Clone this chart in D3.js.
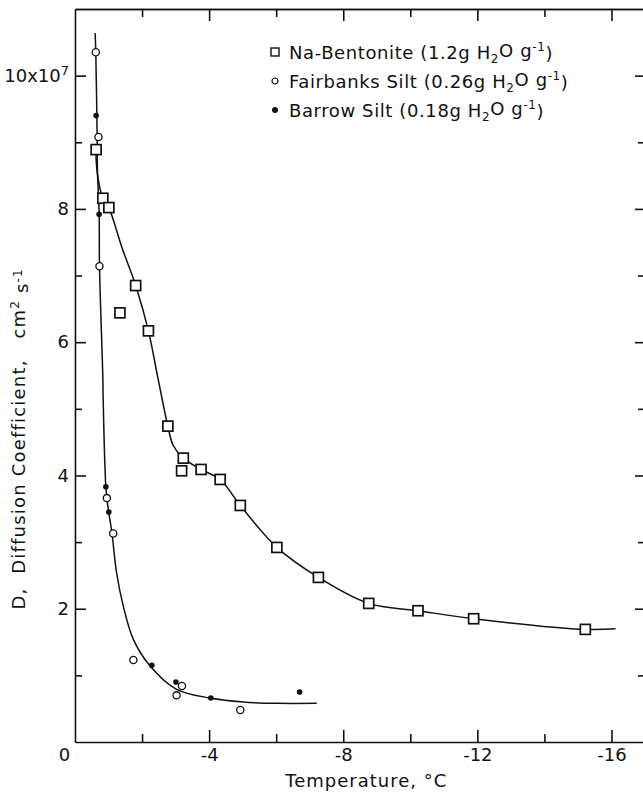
<!DOCTYPE html>
<html>
<head>
<meta charset="utf-8">
<script src="https://cdn.jsdelivr.net/npm/d3@7"></script>
<style>
  body { margin: 0; background: #fff; }
  svg text { font-family: "DejaVu Sans", sans-serif; fill: #111; white-space: pre; }
</style>
</head>
<body>
<div id="graph"></div>
<script>
//Measured points (temperature in degC, D in 1e-7 cm2/s)
const naT = [-0.63, -0.83, -1.01, -1.34, -1.81, -2.19, -2.77, -3.23, -3.18, -3.76, -4.33, -4.93, -6.02, -7.26, -8.76, -10.23, -11.89, -15.22];
const naD = [8.89, 8.16, 8.02, 6.44, 6.85, 6.17, 4.74, 4.26, 4.07, 4.09, 3.94, 3.55, 2.92, 2.47, 2.08, 1.97, 1.85, 1.69];

const fairbanksT = [-0.62, -0.70, -0.73, -0.95, -1.14, -1.74, -3.19, -3.03, -4.93];
const fairbanksD = [10.35, 9.08, 7.14, 3.66, 3.13, 1.23, 0.84, 0.70, 0.48];

const barrowT = [-0.63, -0.72, -0.92, -1.01, -2.29, -3.01, -4.05, -6.70];
const barrowD = [9.40, 7.92, 3.83, 3.45, 1.15, 0.90, 0.66, 0.75];

//Hand drawn curves
const naCurveT = [-0.62, -0.66, -0.83, -1.01, -1.40, -1.81, -2.19, -2.47, -2.77, -2.93, -3.23, -3.76, -4.33, -4.93, -6.02, -7.26, -8.76, -10.23, -11.89, -15.22, -16.12];
const naCurveD = [8.95, 8.56, 8.16, 8.02, 7.42, 6.85, 6.17, 5.47, 4.74, 4.45, 4.26, 4.09, 3.94, 3.55, 2.92, 2.47, 2.08, 1.97, 1.85, 1.69, 1.70];

const siltCurveT = [-0.60, -0.62, -0.66, -0.67, -0.72, -0.73, -0.83, -0.84, -0.92, -0.98, -1.10, -1.24, -1.44, -1.74, -2.24, -3.03, -4.03, -5.02, -6.02, -7.21];
const siltCurveD = [10.64, 10.35, 9.08, 8.56, 7.93, 7.15, 5.47, 5.15, 3.83, 3.54, 3.14, 2.54, 2.04, 1.54, 1.14, 0.79, 0.66, 0.60, 0.58, 0.58];

//Ticks
const xMajor = [0, -4, -8, -12, -16];
const xMinor = [-2, -6, -10, -14];
const xTickLabels = ["0", "-4", "-8", "-12", "-16"];
const yMajor = [2, 4, 6, 8, 10];
const yMinor = [1, 3, 5, 7, 9];
const yTickLabels = ["2", "4", "6", "8", "10x10"];

//Legend
const legendNames = ["Na-Bentonite", "Fairbanks Silt", "Barrow Silt"];
const legendWater = ["1.2g", "0.26g", "0.18g"];
const legendMarks = ["square", "open", "dot"];

//Display specifications
const W = 643, H = 795;
const margin = {top: 9, right: -2, bottom: 53, left: 75};
const width = W - margin.left - margin.right;
const height = H - margin.top - margin.bottom;

const x = d3.scaleLinear().domain([0, -17]).range([0, width]);
const y = d3.scaleLinear().domain([0, 11]).range([height, 0]);

const svg = d3.select("#graph").append("svg")
    .attr("width", W).attr("height", H);

const g = svg.append("g")
    .attr("transform", "translate(" + margin.left + "," + margin.top + ")");

function styleAxis(sel) {
  sel.selectAll("path.domain").attr("stroke", "#111").attr("stroke-width", 1.6);
  sel.selectAll(".tick line").attr("stroke", "#111").attr("stroke-width", 1.6);
  sel.selectAll("text").attr("font-size", 18).attr("fill", "#111");
}

//Bottom axis
g.append("g").attr("transform", "translate(0," + height + ")")
  .call(d3.axisBottom(x).tickValues(xMinor).tickSize(-8).tickSizeOuter(0).tickFormat(""))
  .call(styleAxis);
const bx = g.append("g").attr("transform", "translate(0," + height + ")")
  .call(d3.axisBottom(x).tickValues(xMajor).tickSize(-12).tickSizeOuter(0).tickPadding(6)
    .tickFormat((d, i) => xTickLabels[i]))
  .call(styleAxis);
bx.select("path.domain").remove();
bx.selectAll(".tick").filter(d => d === 0).select("line").remove();
bx.selectAll(".tick").filter(d => d === 0).select("text").attr("x", -11);

//Top axis
g.append("g")
  .call(d3.axisTop(x).tickValues(xMinor).tickSize(-8).tickSizeOuter(0).tickFormat(""))
  .call(styleAxis);
g.append("g")
  .call(d3.axisTop(x).tickValues(xMajor.slice(1)).tickSize(-12).tickSizeOuter(0).tickFormat(""))
  .call(styleAxis);

//Left axis
g.append("g")
  .call(d3.axisLeft(y).tickValues(yMinor).tickSize(-7).tickSizeOuter(0).tickFormat(""))
  .call(styleAxis);
const ly = g.append("g")
  .call(d3.axisLeft(y).tickValues(yMajor).tickSize(-11).tickSizeOuter(0).tickPadding(6)
    .tickFormat((d, i) => yTickLabels[i]))
  .call(styleAxis);
ly.select("path.domain").remove();
ly.selectAll(".tick").filter(d => d === 10).select("text")
  .append("tspan").attr("dy", "-0.55em").attr("font-size", 13).text("7");

//Right axis
g.append("g").attr("transform", "translate(" + width + ",0)")
  .call(d3.axisRight(y).tickValues(yMinor).tickSize(-7).tickSizeOuter(0).tickFormat(""))
  .call(styleAxis);
g.append("g").attr("transform", "translate(" + width + ",0)")
  .call(d3.axisRight(y).tickValues(yMajor).tickSize(-10).tickSizeOuter(0).tickFormat(""))
  .call(styleAxis);

//Axis titles
g.append("text")
  .attr("x", x(-8) + 23).attr("y", height + 45)
  .attr("text-anchor", "middle").attr("font-size", 18)
  .attr("letter-spacing", 1)
  .text("Temperature, \u00b0C");

const yt = g.append("text")
  .attr("transform", "translate(-50," + (y(4.55)) + ") rotate(-90)")
  .attr("text-anchor", "middle").attr("font-size", 18)
  .attr("letter-spacing", 1.2);
yt.append("tspan").text("D,  Diffusion Coefficient,   cm");
yt.append("tspan").attr("dy", "-0.5em").attr("font-size", 12).text("2");
yt.append("tspan").attr("dy", "0.5em").text(" s");
yt.append("tspan").attr("dy", "-0.5em").attr("font-size", 12).text("-1");

//Curves
const curveLine = d3.line()
  .x(d => x(d[0]))
  .y(d => y(d[1]))
  .curve(d3.curveCatmullRom.alpha(0.5));

g.append("path")
  .datum(naCurveT.map((t, i) => [t, naCurveD[i]]))
  .attr("fill", "none").attr("stroke", "#111").attr("stroke-width", 1.5)
  .attr("d", curveLine);

g.append("path")
  .datum(siltCurveT.map((t, i) => [t, siltCurveD[i]]))
  .attr("fill", "none").attr("stroke", "#111").attr("stroke-width", 1.5)
  .attr("d", curveLine);

//Markers
g.append("g").selectAll("rect")
  .data(naT.map((t, i) => [t, naD[i]]))
  .enter().append("rect")
  .attr("x", d => x(d[0]) - 5).attr("y", d => y(d[1]) - 5)
  .attr("width", 10).attr("height", 10)
  .attr("fill", "#fff").attr("stroke", "#111").attr("stroke-width", 1.7);

g.append("g").selectAll("circle")
  .data(fairbanksT.map((t, i) => [t, fairbanksD[i]]))
  .enter().append("circle")
  .attr("cx", d => x(d[0])).attr("cy", d => y(d[1]))
  .attr("r", 3.6)
  .attr("fill", "#fff").attr("stroke", "#111").attr("stroke-width", 1.3);

g.append("g").selectAll("circle")
  .data(barrowT.map((t, i) => [t, barrowD[i]]))
  .enter().append("circle")
  .attr("cx", d => x(d[0])).attr("cy", d => y(d[1]))
  .attr("r", 2.8)
  .attr("fill", "#111");

//Legend
const legend = svg.append("g").attr("transform", "translate(275,52)");
legendNames.forEach(function (name, i) {
  const row = legend.append("g").attr("transform", "translate(0," + (i * 29) + ")");
  if (legendMarks[i] === "square") {
    row.append("rect").attr("x", -4).attr("y", -4).attr("width", 8).attr("height", 8)
      .attr("fill", "#fff").attr("stroke", "#111").attr("stroke-width", 1.4);
  } else if (legendMarks[i] === "open") {
    row.append("circle").attr("r", 3).attr("fill", "#fff").attr("stroke", "#111").attr("stroke-width", 1.2);
  } else {
    row.append("circle").attr("r", 3).attr("fill", "#111");
  }
  const t = row.append("text").attr("x", 14).attr("y", 7).attr("font-size", 18)
    .attr("letter-spacing", 0.6);
  t.append("tspan").text(name + " (" + legendWater[i] + " H");
  t.append("tspan").attr("dy", "0.3em").attr("font-size", 12).text("2");
  t.append("tspan").attr("dy", "-0.3em").text("O g");
  t.append("tspan").attr("dy", "-0.5em").attr("font-size", 12).text("-1");
  t.append("tspan").attr("dy", "0.5em").text(")");
});
</script>
</body>
</html>
